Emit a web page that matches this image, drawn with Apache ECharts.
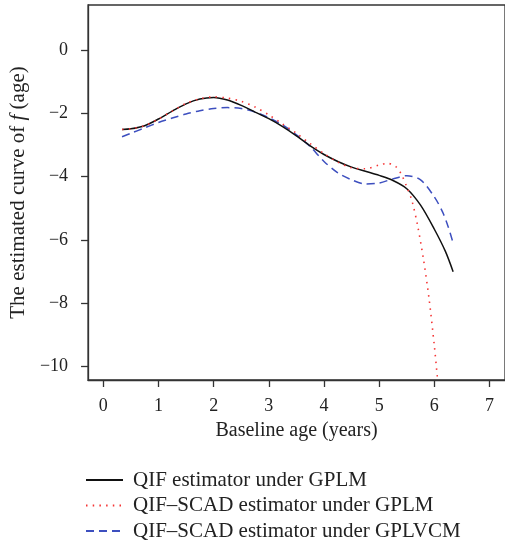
<!DOCTYPE html>
<html><head><meta charset="utf-8">
<script src="https://cdn.jsdelivr.net/npm/echarts@6/dist/echarts.min.js"></script>
<style>html,body{margin:0;padding:0;background:#fff}#c{width:505px;height:542px}</style>
</head><body><div id="c"></div>
<script>
var seriesNames = ['QIF estimator under GPLM', 'QIF\u2013SCAD estimator under GPLM', 'QIF\u2013SCAD estimator under GPLVCM'];
var xTicks = [0, 1, 2, 3, 4, 5, 6, 7];
var yTicks = [0, -2, -4, -6, -8, -10];

var gplmX = [0.34,0.5,0.75,1.0,1.25,1.5,1.75,2.0,2.25,2.5,2.75,3.0,3.25,3.5,3.75,4.0,4.25,4.5,4.75,5.0,5.25,5.5,5.75,6.0,6.2,6.34];
var gplmY = [-2.51,-2.49,-2.39,-2.18,-1.93,-1.70,-1.55,-1.50,-1.58,-1.75,-1.96,-2.17,-2.42,-2.71,-3.03,-3.30,-3.52,-3.70,-3.83,-3.96,-4.12,-4.38,-4.90,-5.66,-6.36,-7.0];

var scadX = [0.34,0.5,0.75,1.0,1.25,1.5,1.75,2.0,2.25,2.5,2.75,3.0,3.25,3.5,3.75,4.0,4.25,4.5,4.75,5.0,5.15,5.3,5.4,5.5,5.6,5.7,5.8,5.9,6.0,6.06];
var scadY = [-2.51,-2.49,-2.39,-2.18,-1.93,-1.69,-1.54,-1.48,-1.52,-1.62,-1.80,-2.05,-2.34,-2.63,-2.96,-3.27,-3.54,-3.72,-3.75,-3.63,-3.58,-3.68,-3.92,-4.32,-4.80,-5.58,-6.58,-7.80,-9.35,-10.45];

var vcmX = [0.34,0.5,0.75,1.0,1.25,1.5,1.75,2.0,2.25,2.5,2.75,3.0,3.25,3.5,3.75,4.0,4.25,4.5,4.75,5.0,5.25,5.5,5.75,6.0,6.15,6.25,6.34];
var vcmY = [-2.74,-2.63,-2.46,-2.29,-2.15,-2.02,-1.92,-1.85,-1.82,-1.85,-1.96,-2.14,-2.37,-2.68,-3.05,-3.52,-3.88,-4.10,-4.23,-4.20,-4.07,-3.97,-4.10,-4.64,-5.12,-5.58,-6.1];

function pairs(xs, ys){ return xs.map(function(x,i){ return [x, ys[i]]; }); }
function fmt(v){ return String(v).replace('-', '\u2212'); }

var FONT = 'Liberation Serif';
var chart = echarts.init(document.getElementById('c'), null, {renderer:'canvas'});
chart.setOption({
  animation: false,
  grid: {left: 86.7, right: -0.3, top: 5, bottom: 162, show: true, borderColor: '#333', borderWidth: 1.3, backgroundColor: 'transparent'},
  xAxis: {
    type: 'value', min: -0.276, max: 7.28,
    name: 'Baseline age (years)', nameLocation: 'middle', nameGap: 41,
    nameTextStyle: {fontFamily: FONT, fontSize: 20, color: '#222'},
    axisLine: {show: true, onZero: false, lineStyle: {color: '#333', width: 1.3}},
    axisTick: {show: true, inside: false, length: 7, customValues: xTicks, lineStyle: {color: '#333', width: 1.3}},
    axisLabel: {customValues: xTicks, formatter: fmt, margin: 17, fontFamily: FONT, fontSize: 18, color: '#222'},
    splitLine: {show: false}
  },
  yAxis: {
    type: 'value', min: -10.42, max: 1.42,
    name: 'The estimated curve of {i|f} (age)', nameLocation: 'middle', nameGap: 48,
    nameTextStyle: {fontFamily: FONT, fontSize: 21, color: '#222', rich: {i: {fontFamily: FONT, fontSize: 21, fontStyle: 'italic', color: '#222'}}},
    axisLine: {show: true, onZero: false, lineStyle: {color: '#333', width: 1.3}},
    axisTick: {show: true, inside: false, length: 7, customValues: yTicks, lineStyle: {color: '#333', width: 1.3}},
    axisLabel: {customValues: yTicks, formatter: fmt, margin: 20, fontFamily: FONT, fontSize: 18, color: '#222'},
    splitLine: {show: false}
  },
  legend: {
    orient: 'vertical', left: 85, top: 469.5, height: 90, padding: 0,
    itemWidth: 37, itemHeight: 14, itemGap: 4.5,
    itemStyle: {opacity: 0},
    textStyle: {fontFamily: FONT, fontSize: 21, color: '#222', lineHeight: 19, padding: [0, 0, 0, 5]},
    data: seriesNames.map(function(n){ return {name: n}; })
  },
  series: [
    {name: seriesNames[0], type: 'line', data: pairs(gplmX, gplmY), smooth: 0.3, showSymbol: false, symbol: 'none',
     lineStyle: {color: '#111', width: 1.5, type: 'solid'}, itemStyle: {color: '#111'}, z: 3},
    {name: seriesNames[1], type: 'line', data: pairs(scadX, scadY), smooth: 0.3, showSymbol: false, symbol: 'none',
     lineStyle: {color: '#f53535', width: 1.6, type: [1.5, 5.2]}, itemStyle: {color: '#f53535'}, z: 4},
    {name: seriesNames[2], type: 'line', data: pairs(vcmX, vcmY), smooth: 0.3, showSymbol: false, symbol: 'none',
     lineStyle: {color: '#3d4fbf', width: 1.5, type: [8, 5]}, itemStyle: {color: '#3d4fbf'}, z: 2}
  ]
});
</script></body></html>
